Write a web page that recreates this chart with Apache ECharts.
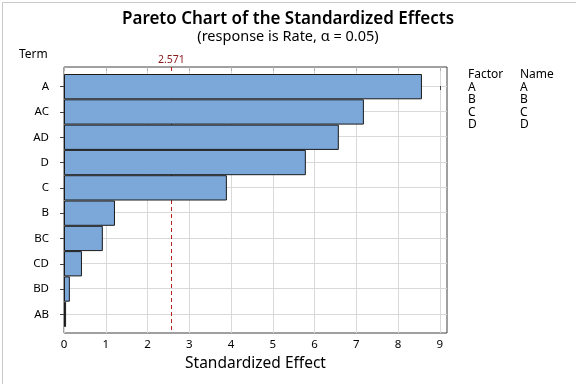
<!DOCTYPE html>
<html>
<head>
<meta charset="utf-8">
<script src="https://cdn.jsdelivr.net/npm/echarts@6/dist/echarts.min.js"></script>
<style>
html,body{margin:0;padding:0;background:#fff;}
#chart{width:576px;height:384px;}
</style>
</head>
<body>
<div id="chart"></div>
<script>
const terms = ['A', 'AC', 'AD', 'D', 'C', 'B', 'BC', 'CD', 'BD', 'AB'];
const effects = [8.57, 7.18, 6.58, 5.79, 3.90, 1.22, 0.93, 0.43, 0.14, 0.05];
const refValue = 2.571;
const xTicks = [0, 1, 2, 3, 4, 5, 6, 7, 8, 9];
const rowIndex = [0, 1, 2, 3, 4, 5, 6, 7, 8, 9];
const factorCodes = ['A', 'B', 'C', 'D'];
const factorNames = ['A', 'B', 'C', 'D'];

const FONT = 'Noto Sans';
const xMax = 9.17;
const gridL = 64, gridR = 129, frameTop = 67, frameBottom = 51, barTop = 74, barBottom = 57;

const chart = echarts.init(document.getElementById('chart'));

const legendTexts = [];
legendTexts.push({type:'text', left:468, top:69, style:{text:'Factor', font:'12px ' + FONT, fill:'#000'}});
legendTexts.push({type:'text', left:520, top:69, style:{text:'Name', font:'12px ' + FONT, fill:'#000'}});
factorCodes.forEach((f, i) => {
  legendTexts.push({type:'text', left:468, top:81.5 + i * 12.3, style:{text:f, font:'12px ' + FONT, fill:'#000'}});
  legendTexts.push({type:'text', left:520, top:81.5 + i * 12.3, style:{text:factorNames[i], font:'12px ' + FONT, fill:'#000'}});
});

chart.setOption({
  animation: false,
  backgroundColor: '#fff',
  textStyle: {fontFamily: FONT},
  title: {
    text: 'Pareto Chart of the Standardized Effects',
    subtext: '(response is Rate, α = 0.05)',
    left: 'center',
    top: 6,
    itemGap: 1,
    textStyle: {fontFamily: FONT, fontSize: 17, fontWeight: 600, color: '#000'},
    subtextStyle: {fontFamily: FONT, fontSize: 14.5, color: '#000'}
  },
  graphic: [
    {type:'rect', left:0, top:0, shape:{width:575, height:383}, style:{fill:'none', stroke:'#c8c8c8', lineWidth:1}, silent:true},
    {type:'text', left:19, top:49, style:{text:'Term', font:'12px ' + FONT, fill:'#000'}}
  ].concat(legendTexts),
  grid: [
    {left: gridL, right: gridR, top: barTop, bottom: barBottom},
    {left: gridL, right: gridR, top: frameTop, bottom: frameBottom, show: true, borderColor: '#404040', borderWidth: 1, backgroundColor: 'transparent'}
  ],
  xAxis: [
    {gridIndex: 0, type: 'value', min: 0, max: xMax, show: false},
    {gridIndex: 1, type: 'value', min: 0, max: xMax,
      axisLine: {show: false},
      axisTick: {show: true, length: 4, customValues: xTicks, lineStyle: {color: '#404040'}},
      axisLabel: {customValues: xTicks, color: '#000', fontSize: 11.5, margin: 6, fontFamily: FONT},
      splitLine: {show: true, lineStyle: {color: '#d9d9d9', width: 1}},
      name: 'Standardized Effect', nameLocation: 'middle', nameGap: 22,
      nameTextStyle: {fontSize: 15.5, color: '#000', fontFamily: FONT}
    },
    {gridIndex: 1, type: 'value', min: 0, max: xMax, position: 'top',
      axisLine: {show: false},
      axisTick: {show: true, inside: true, length: 4, customValues: xTicks, lineStyle: {color: '#b0b0b0'}},
      axisLabel: {show: false},
      splitLine: {show: false}
    }
  ],
  yAxis: [
    {gridIndex: 0, type: 'category', data: terms, inverse: true,
      axisLine: {show: false},
      axisTick: {show: true, alignWithLabel: true, length: 4, lineStyle: {color: '#404040'}},
      axisLabel: {color: '#000', fontSize: 11.5, margin: 15, fontFamily: FONT},
      splitLine: {show: false}
    },
    {gridIndex: 1, type: 'value', min: -0.75, max: 9.75, inverse: true,
      axisLine: {show: false},
      axisTick: {show: false, customValues: rowIndex},
      axisLabel: {show: false, customValues: rowIndex},
      splitLine: {show: true, lineStyle: {color: '#d9d9d9', width: 1}}
    }
  ],
  series: [
    {
      type: 'line', xAxisIndex: 1, yAxisIndex: 1, z: 1, silent: true,
      data: [],
      markLine: {
        silent: true, symbol: 'none', animation: false, z: 1,
        lineStyle: {color: '#b22222', type: [4, 3], width: 1, opacity: 1},
        label: {show: true, position: 'start', formatter: String(refValue), color: '#8b1a1a', fontSize: 10.5, fontFamily: FONT, distance: 1},
        data: [{xAxis: refValue}]
      }
    },
    {
      type: 'bar', xAxisIndex: 0, yAxisIndex: 0, z: 3,
      data: effects,
      barCategoryGap: '0%',
      itemStyle: {color: '#7ba7d9', borderColor: '#1a1a1a', borderWidth: 1}
    }
  ]
});
</script>
</body>
</html>
